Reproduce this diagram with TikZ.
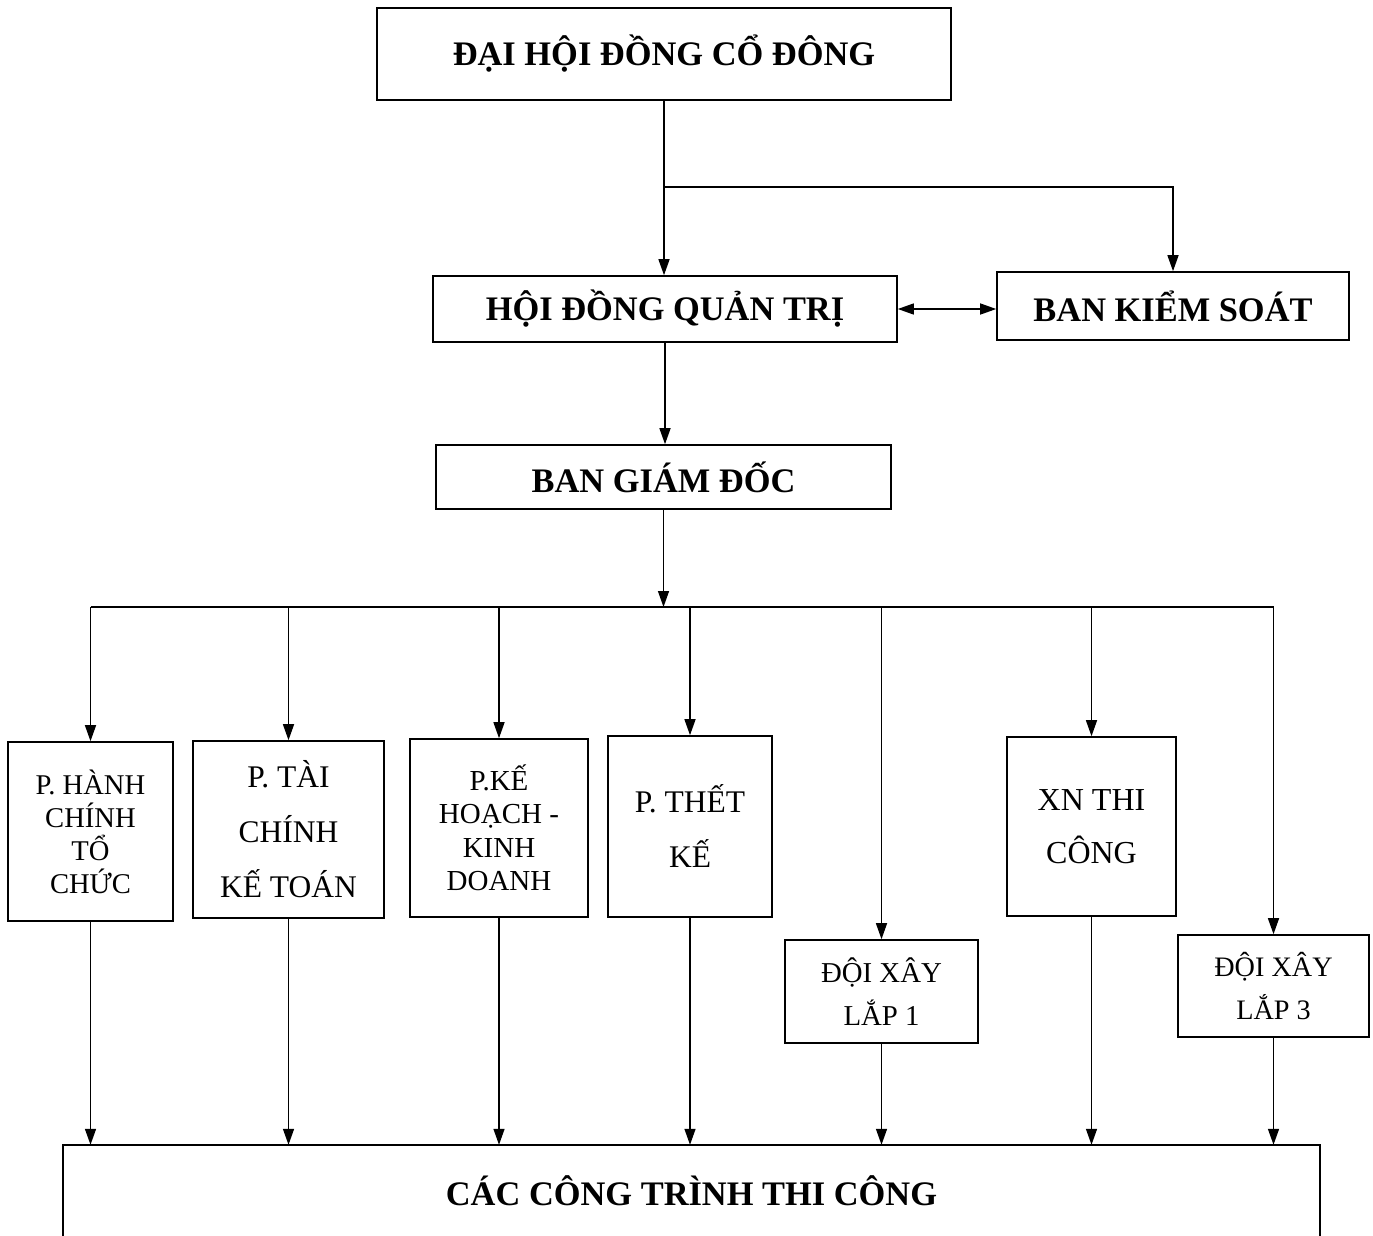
\documentclass[tikz,border=0pt]{standalone}
\usepackage{fontspec}
\setmainfont{Liberation Serif}
\usetikzlibrary{arrows.meta}
\begin{document}
\begin{tikzpicture}[x=1pt,y=-1pt,
  box/.style={draw, line width=1.6pt, inner sep=0pt, align=center},
  big/.style={font=\bfseries\fontsize{34.4}{40}\selectfont},
  arr/.style={line width=1.4pt, -{Triangle[length=16pt,width=11pt]}},
  dbl/.style={line width=1.4pt, {Triangle[length=16pt,width=11pt]}-{Triangle[length=16pt,width=11pt]}},
  plainline/.style={line width=1.4pt}]
\useasboundingbox (0,0) rectangle (1373,1236);

% top levels
\node[box,big,minimum width=574pt,minimum height=92pt] (top) at (664,54) {ĐẠI HỘI ĐỒNG CỔ ĐÔNG};
\node[box,big,minimum width=464pt,minimum height=66pt] (hdqt) at (665,309) {HỘI ĐỒNG QUẢN TRỊ};
\node[box,big,minimum width=352pt,minimum height=68pt] (bks) at (1173,306) {BAN KIỂM SOÁT};
\node[box,big,minimum width=455pt,minimum height=64pt] (bgd) at (663.5,477) {BAN GIÁM ĐỐC};

% departments
\node[box,minimum width=165pt,minimum height=179pt,font=\fontsize{28.6}{33}\selectfont] (phc) at (90.5,831.5) {P. HÀNH\\CHÍNH\\TỔ\\CHỨC};
\node[box,minimum width=191pt,minimum height=177pt,font=\fontsize{31.5}{55}\selectfont] (ptc) at (288.5,829.5) {P. TÀI\\CHÍNH\\KẾ TOÁN};
\node[box,minimum width=178pt,minimum height=178pt,font=\fontsize{29}{33.5}\selectfont] (pkh) at (499,828) {P.KẾ\\HOẠCH -\\KINH\\DOANH};
\node[box,minimum width=164pt,minimum height=181pt,font=\fontsize{31.5}{55}\selectfont] (ptk) at (690,826.5) {P. THẾT\\KẾ};
\node[box,minimum width=193pt,minimum height=103pt,font=\fontsize{28.8}{43}\selectfont] (dx1) at (881.5,991.5) {ĐỘI XÂY\\LẮP 1};
\node[box,minimum width=169pt,minimum height=179pt,font=\fontsize{32}{53}\selectfont] (xn) at (1091.5,826.5) {XN THI\\CÔNG};
\node[box,minimum width=191pt,minimum height=102pt,font=\fontsize{28.2}{43}\selectfont] (dx3) at (1273.5,986) {ĐỘI XÂY\\LẮP 3};

% bottom open box
\node[inner sep=0pt,minimum width=1257pt,minimum height=91pt,big] (bot) at (691.5,1190.5) {CÁC CÔNG TRÌNH THI CÔNG};
\draw[line width=1.6pt] (bot.south west) -- (bot.north west) -- (bot.north east) -- (bot.south east);

% connectors
\coordinate (j1) at (664,187);
\coordinate (bus) at (663,607);
\draw[arr] (top.south) -- (top.south |- hdqt.north);
\draw[arr] (j1) -| (bks.north);
\draw[dbl] (hdqt.east) -- (hdqt.east -| bks.west);
\draw[arr] (hdqt.south) -- (hdqt.south |- bgd.north);
\draw[arr] (bgd.south) -- (bgd.south |- bus);
\draw[plainline] (phc.north |- bus) -- (dx3.north |- bus);
\foreach \n in {phc,ptc,pkh,ptk,dx1,xn,dx3}{
  \draw[arr] (\n.north |- bus) -- (\n.north);
  \draw[arr] (\n.south) -- (\n.south |- bot.north);
}
\end{tikzpicture}
\end{document}
